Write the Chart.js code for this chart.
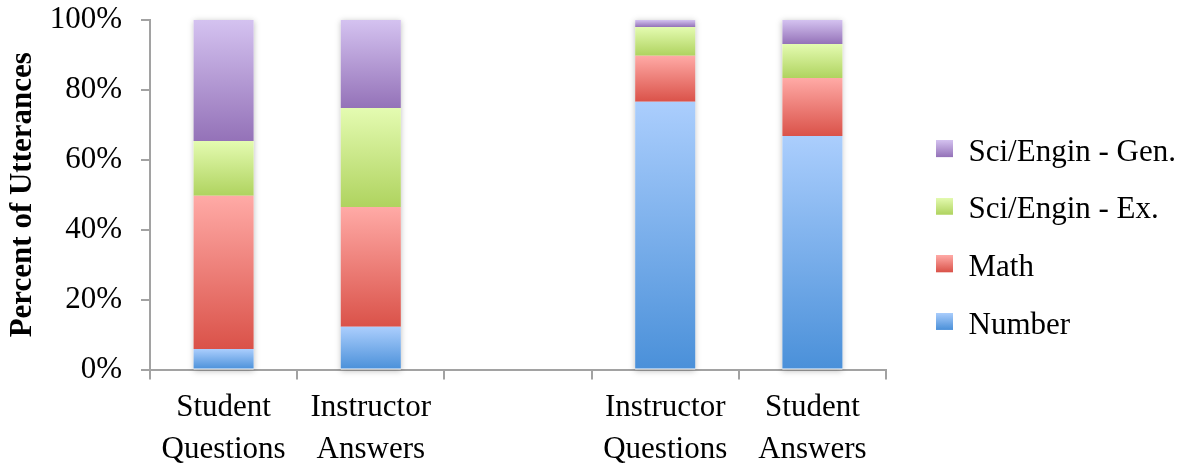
<!DOCTYPE html>
<html>
<head>
<meta charset="utf-8">
<script src="https://cdn.jsdelivr.net/npm/chart.js@4/dist/chart.umd.min.js"></script>
<style>
  html, body { margin: 0; padding: 0; background: #fff; }
  #wrap { width: 1182px; height: 466px; }
</style>
</head>
<body>
<div id="wrap"><canvas id="chart" width="1182" height="466"></canvas></div>
<script>
// Categories (third slot is an empty spacer)
const categories = [['Student', 'Questions'], ['Instructor', 'Answers'], '', ['Instructor', 'Questions'], ['Student', 'Answers']];

// Series values, percent of utterances
const numberVals = [5.9, 12.2, null, 76.6, 66.8];
const mathVals = [43.8, 34.3, null, 13.2, 16.6];
const sciExVals = [15.7, 28.3, null, 8.2, 9.7];
const sciGenVals = [34.6, 25.2, null, 2.0, 6.9];

const seriesNames = ['Number', 'Math', 'Sci/Engin - Ex.', 'Sci/Engin - Gen.'];
const yTicks = [0, 20, 40, 60, 80, 100];

// light (top) and dark (bottom) colours for each series
const lightColors = ['#abcefd', '#ffaaa6', '#e4fbb1', '#d4c2f0'];
const darkColors = ['#4a90d9', '#da5249', '#afd35f', '#9472b8'];

const axisGrey = '#a2a2a2';
const serif = "'Liberation Serif', 'Times New Roman', serif";

// gradient for one stacked segment, light at top, dark at bottom
function segGradient(i) {
    return function(c) {
        const chart = c.chart;
        const y = chart.scales.y;
        if (!y || c.type !== 'data') return darkColors[i];
        let base = 0;
        for (let d = 0; d < c.datasetIndex; d++) {
            base += chart.data.datasets[d].data[c.dataIndex] || 0;
        }
        const v = chart.data.datasets[c.datasetIndex].data[c.dataIndex] || 0;
        const top = y.getPixelForValue(base + v);
        const bottom = y.getPixelForValue(base);
        if (!isFinite(top) || !isFinite(bottom) || top === bottom) return darkColors[i];
        const g = chart.ctx.createLinearGradient(0, top, 0, bottom);
        g.addColorStop(0, lightColors[i]);
        g.addColorStop(1, darkColors[i]);
        return g;
    };
}

// small gradient square for the legend (sits a little above the text middle)
function legendBox(i) {
    const c = document.createElement('canvas');
    c.width = 17;
    c.height = 25;
    const x = c.getContext('2d');
    const g = x.createLinearGradient(0, 0, 0, 17);
    g.addColorStop(0, lightColors[i]);
    g.addColorStop(1, darkColors[i]);
    x.fillStyle = g;
    x.fillRect(0, 0, 17, 17);
    return c;
}

// soft shadow behind each whole bar
const barShadow = {
    id: 'barShadow',
    beforeDatasetsDraw(chart) {
        const ctx = chart.ctx;
        const y = chart.scales.y;
        const meta = chart.getDatasetMeta(0);
        ctx.save();
        ctx.shadowColor = 'rgba(0,0,0,0.25)';
        ctx.shadowBlur = 6;
        ctx.shadowOffsetY = 1;
        ctx.fillStyle = '#fff';
        categories.forEach((cat, i) => {
            let total = 0;
            chart.data.datasets.forEach(ds => { total += ds.data[i] || 0; });
            if (!total) return;
            const bar = meta.data[i];
            const top = y.getPixelForValue(total);
            const bottom = y.getPixelForValue(0);
            ctx.fillRect(bar.x - bar.width / 2, top, bar.width, bottom - top);
        });
        ctx.restore();
    }
};

// leave a gap between plot and legend: wider legend box, items kept at the right
const legendGap = {
    id: 'legendGap',
    beforeLayout(chart) {
        const lg = chart.legend;
        if (lg && !lg._gapPatched) {
            const fit = lg.fit;
            lg.fit = function() {
                fit.call(this);
                this.width = 296;
            };
            lg._gapPatched = true;
        }
    },
    afterLayout(chart) {
        const lg = chart.legend;
        if (lg) {
            lg.left = 936 - lg.options.labels.padding;
            lg.top += 6;
            lg.bottom += 6;
        }
    }
};

const seriesData = [numberVals, mathVals, sciExVals, sciGenVals];

new Chart(document.getElementById('chart'), {
    type: 'bar',
    data: {
        labels: categories,
        datasets: seriesData.map((vals, i) => ({
            label: seriesNames[i],
            data: vals,
            backgroundColor: segGradient(i),
            borderWidth: 0,
            categoryPercentage: 1,
            barPercentage: 0.408
        }))
    },
    options: {
        responsive: false,
        animation: false,
        layout: { padding: { top: 0, left: 0, right: 0, bottom: 0 } },
        scales: {
            x: {
                stacked: true,
                grid: {
                    offset: true,
                    drawOnChartArea: false,
                    drawTicks: true,
                    tickLength: 10,
                    color: axisGrey,
                    lineWidth: 2
                },
                border: { color: axisGrey, width: 2 },
                ticks: {
                    color: '#000',
                    font: { family: serif, size: 31, lineHeight: 1.37 },
                    padding: 7,
                    maxRotation: 0,
                    autoSkip: false
                },
                afterFit(s) { s.height = 96.5; }
            },
            y: {
                stacked: true,
                min: 0,
                max: 100,
                afterBuildTicks(s) { s.ticks = yTicks.map(v => ({ value: v })); },
                grid: {
                    drawOnChartArea: false,
                    drawTicks: true,
                    tickLength: 9,
                    color: axisGrey,
                    lineWidth: 2
                },
                border: { color: axisGrey, width: 2 },
                ticks: {
                    color: '#000',
                    font: { family: serif, size: 31 },
                    padding: 19,
                    callback: v => v + '%'
                },
                title: {
                    display: true,
                    text: 'Percent of Utterances',
                    color: '#000',
                    font: { family: serif, size: 31, weight: 'bold', lineHeight: 1.2 },
                    padding: { top: 4, bottom: 0 }
                },
                afterFit(s) {
                    s.width = 150;
                    s.paddingTop = 20;
                    s.paddingBottom = 0;
                }
            }
        },
        plugins: {
            tooltip: { enabled: false },
            legend: {
                position: 'right',
                align: 'center',
                reverse: true,
                labels: {
                    color: '#000',
                    font: { family: serif, size: 31 },
                    usePointStyle: true,
                    boxWidth: 17,
                    boxHeight: 17,
                    padding: 26.6,
                    generateLabels: (chart) => chart.data.datasets.map((ds, i) => ({
                        text: ds.label,
                        pointStyle: legendBox(i),
                        fillStyle: darkColors[i],
                        strokeStyle: 'transparent',
                        lineWidth: 0,
                        hidden: false,
                        datasetIndex: i
                    }))
                }
            }
        }
    },
    plugins: [barShadow, legendGap]
});
</script>
</body>
</html>
